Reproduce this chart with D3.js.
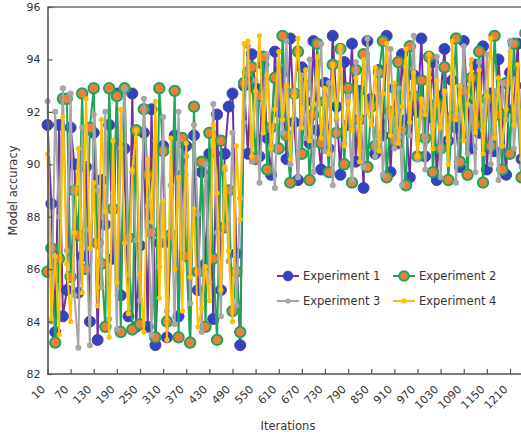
<!DOCTYPE html>
<html>
<head>
<meta charset="utf-8">
<script src="https://cdn.jsdelivr.net/npm/d3@7"></script>
<style>
  body { margin: 0; background: #fff; overflow: hidden; }
  text { font-family: "DejaVu Sans", Verdana, sans-serif; fill: #333; }
</style>
</head>
<body>
<div id="container"></div>
<script>
/* CONSTANTS */
const width = 521,
  height = 438,
  margin = { top: 7, left: 47.5, bottom: 64 };

// iterations 10 .. 1250, one reading every 10
const iterations = d3.range(10, 1260, 10);
const xTicks = [10, 70, 130, 190, 250, 310, 370, 430, 490, 550, 610, 670, 730, 790, 850, 910, 970, 1030, 1090, 1150, 1210];
const yTicks = [82, 84, 86, 88, 90, 92, 94, 96];

/* DATA */
const exp1 = [
  91.5, 88.5, 83.6, 91.5, 84.2, 85.2, 91.4, 90.0, 85.1, 86.5,
  89.9, 84.0, 91.2, 83.3, 89.4, 87.7, 91.5, 86.4, 92.7, 85.0,
  90.6, 84.2, 92.7, 83.8, 86.9, 91.2, 83.8, 92.1, 83.1, 87.0,
  90.7, 83.4, 87.0, 91.1, 84.2, 89.6, 90.7, 83.2, 91.1, 85.2,
  89.7, 86.2, 90.4, 84.1, 91.9, 85.2, 90.4, 92.2, 92.7, 86.6, 83.1,
  93.0, 90.4, 94.2, 92.9, 90.3, 93.8, 91.0, 89.6, 94.3, 92.0,
  93.5, 90.2, 94.8, 91.6, 89.4, 93.7, 92.4, 90.8, 94.7, 91.3,
  89.8, 93.1, 90.6, 94.9, 92.2, 89.6, 93.9, 91.5, 94.6, 90.1,
  92.8, 89.1, 94.7, 92.5, 90.4, 93.6, 91.1, 94.9, 89.7, 92.9,
  90.8, 94.2, 91.7, 89.5, 93.4, 92.0, 94.8, 90.3, 91.8, 93.9,
  89.4, 92.6, 94.4, 90.9, 93.2, 91.4, 89.9, 94.7, 92.3, 90.6,
  93.8, 91.2, 94.5, 89.8, 92.7, 90.5, 94.0, 91.9, 89.6, 93.5,
  92.1, 94.6, 90.2, 93.0
];
const exp2 = [
  85.9, 86.8, 83.2, 86.4, 92.5, 92.5, 85.7, 89.0, 87.3, 92.7,
  86.0, 91.4, 92.9, 87.0, 86.2, 83.8, 92.9, 88.3, 92.6, 83.6,
  92.9, 87.2, 83.7, 91.3, 83.9, 92.1, 89.6, 87.4, 83.4, 92.9,
  90.5, 84.0, 87.3, 92.8, 83.4, 91.0, 86.5, 83.2, 92.2, 85.9,
  90.1, 83.8, 91.2, 86.4, 83.3, 90.9, 87.6, 89.0, 84.4, 85.9, 83.6,
  93.1, 93.5, 93.7, 90.2, 92.6, 94.1, 89.8, 91.4, 93.3, 90.6,
  94.9, 91.1, 89.3, 92.7, 94.3, 90.4, 93.0, 89.4, 91.9, 94.6,
  90.8, 92.4, 89.7, 93.8, 91.2, 94.4, 90.0, 92.9, 89.3, 93.6,
  91.7, 94.2, 89.9, 92.2, 90.7, 93.5, 94.7, 89.5, 92.0, 90.9,
  93.9, 91.3, 89.2, 94.5, 92.6, 90.3, 93.2, 91.0, 94.1, 89.7,
  92.3, 90.6, 93.7, 89.4, 91.8, 94.8, 90.1, 92.8, 89.6, 93.3,
  91.5, 94.3, 89.3, 92.5, 90.7, 94.9, 91.9, 89.8, 93.1, 90.4,
  94.6, 92.0, 89.5, 95.0
];
const exp3 = [
  92.4, 84.0, 92.0, 88.0, 92.9, 86.7, 92.7, 85.0, 83.0, 91.4,
  87.5, 83.1, 91.9, 89.0, 85.3, 92.0, 84.1, 88.9, 83.7, 90.6,
  92.9, 85.8, 89.7, 87.1, 84.8, 92.5, 88.4, 83.5, 90.9, 86.1,
  91.8, 84.4, 89.2, 83.9, 92.0, 86.8, 90.3, 84.7, 91.5, 88.1,
  83.6, 90.0, 85.5, 92.3, 87.4, 84.2, 89.8, 86.3, 91.2, 84.6, 88.7,
  91.6, 94.5, 90.1, 93.2, 89.3, 92.5, 94.2, 90.7, 89.1, 93.8,
  91.2, 94.7, 90.0, 92.8, 89.5, 93.4, 91.0, 94.0, 89.7, 92.3,
  94.6, 90.5, 93.1, 89.2, 91.7, 94.3, 90.8, 92.6, 89.4, 93.9,
  91.4, 89.9, 94.8, 92.1, 90.3, 93.5, 89.6, 91.8, 94.4, 90.6,
  92.9, 89.2, 93.7, 91.1, 94.9, 90.2, 92.4, 89.8, 93.3, 91.5,
  94.1, 89.5, 92.7, 90.9, 93.6, 89.3, 91.9, 94.5, 90.4, 92.2,
  89.7, 93.9, 91.3, 94.2, 90.0, 92.8, 89.4, 93.1, 91.7, 94.7,
  90.6, 92.5, 89.9, 93.4
];
const exp4 = [
  90.4, 84.1, 86.5, 83.5, 91.8, 86.2, 84.0, 87.4, 90.6, 85.1,
  92.5, 86.8, 89.3, 84.6, 91.7, 88.2, 83.4, 90.9, 85.5, 92.1,
  87.0, 84.3, 89.8, 91.3, 85.8, 83.6, 90.2, 87.8, 92.4, 84.9,
  88.6, 83.3, 91.0, 86.0, 89.5, 84.4, 90.8, 85.7, 88.3, 83.8,
  84.5, 86.1, 84.8, 91.5, 88.9, 85.2, 89.9, 86.7, 84.0, 90.7, 87.9,
  94.6, 94.7, 90.3, 92.8, 94.9, 91.2, 93.4, 90.6, 92.1, 94.3,
  91.7, 93.0, 90.2, 92.6, 94.8, 91.4, 93.6, 90.9, 92.3, 94.1,
  91.0, 92.9, 90.4, 93.8, 91.8, 94.5, 90.7, 92.4, 91.3, 93.3,
  90.1, 94.0, 92.0, 91.5, 93.7, 90.5, 92.7, 94.6, 91.1, 93.1,
  90.8, 92.2, 94.4, 91.6, 93.5, 90.3, 92.5, 91.9, 94.2, 90.6,
  93.2, 91.4, 92.8, 90.0, 94.7, 91.7, 93.0, 90.9, 92.3, 94.0,
  91.2, 93.6, 90.4, 92.6, 94.8, 91.0, 93.3, 90.7, 92.1, 94.3,
  91.5, 93.8, 90.2, 94.9
];

const series = [
  { name: "Experiment 1", values: exp1, line: "#7030a0", fill: "#2f45bd", stroke: "#5a38b0", r: 5.5, sw: 1 },
  { name: "Experiment 2", values: exp2, line: "#1fa55a", fill: "#ee7f3b", stroke: "#1fa55a", r: 5.2, sw: 2 },
  { name: "Experiment 3", values: exp3, line: "#a6a6a6", fill: "#a6a6a6", stroke: "#a6a6a6", r: 3, sw: 0 },
  { name: "Experiment 4", values: exp4, line: "#ffc000", fill: "#ffc000", stroke: "#ffc000", r: 2.6, sw: 0 }
];

/* SCALES */
const xScale = d3.scaleLinear()
  .domain([10, 1210])
  .range([margin.left, 510]);

const yScale = d3.scaleLinear()
  .domain([82, 96])
  .range([height - margin.bottom, margin.top]);

const svg = d3.select("#container")
  .append("svg")
  .attr("width", width)
  .attr("height", height);

// top frame line
svg.append("line")
  .attr("x1", margin.left).attr("x2", width)
  .attr("y1", yScale(96)).attr("y2", yScale(96))
  .attr("stroke", "#6b6b6b").attr("stroke-width", 1.5);

/* SERIES */
const lineGen = (vals) => d3.line()
  .x((d, i) => xScale(iterations[i]))
  .y(d => yScale(d))(vals);

series.forEach(s => {
  const g = svg.append("g");
  g.append("path")
    .attr("d", lineGen(s.values))
    .attr("fill", "none")
    .attr("stroke", s.line)
    .attr("stroke-width", 2);
  g.selectAll("circle")
    .data(s.values)
    .join("circle")
    .attr("cx", (d, i) => xScale(iterations[i]))
    .attr("cy", d => yScale(d))
    .attr("r", s.r)
    .attr("fill", s.fill)
    .attr("stroke", s.stroke)
    .attr("stroke-width", s.sw);
});

/* AXES */
const yAxis = d3.axisLeft(yScale)
  .tickValues(yTicks)
  .tickSizeInner(-5)
  .tickSizeOuter(0)
  .tickPadding(7);

const yAxisGroup = svg.append("g")
  .attr("transform", `translate(${margin.left}, 0)`)
  .call(yAxis);

const xAxis = d3.axisBottom(xScale)
  .tickValues(xTicks)
  .tickSizeInner(-5)
  .tickSizeOuter(0)
  .tickFormat(d3.format("d"));

const xAxisGroup = svg.append("g")
  .attr("transform", `translate(0, ${height - margin.bottom})`)
  .call(xAxis);

xAxisGroup.select(".domain").attr("d", `M${margin.left},0H${width}`);

[xAxisGroup, yAxisGroup].forEach(g => {
  g.select(".domain").attr("stroke", "#555").attr("stroke-width", 1.6);
  g.selectAll(".tick line").attr("stroke", "#555").attr("stroke-width", 1.2);
  g.selectAll(".tick text").style("font-size", "11px").attr("fill", "#333")
    .style("font-family", '"DejaVu Sans", Verdana, sans-serif');
});

xAxisGroup.selectAll(".tick text")
  .attr("text-anchor", "end")
  .attr("transform", "translate(-2, 16) rotate(-45)")
  .attr("x", 0).attr("y", 0).attr("dy", 0);

svg.append("text")
  .attr("x", 288).attr("y", 430)
  .attr("text-anchor", "middle")
  .style("font-size", "11.5px")
  .text("Iterations");

svg.append("text")
  .attr("transform", `translate(17, ${(yScale(82) + yScale(96)) / 2}) rotate(-90)`)
  .attr("text-anchor", "middle")
  .style("font-size", "11.5px")
  .text("Model accuracy");

/* LEGEND */
const legend = svg.append("g");
const legendPos = [[277, 276], [393, 276], [277, 301], [393, 301]];
series.forEach((s, i) => {
  const [lx, ly] = legendPos[i];
  const item = legend.append("g").attr("transform", `translate(${lx}, ${ly})`);
  item.append("line")
    .attr("x1", 0).attr("x2", 22)
    .attr("stroke", s.line).attr("stroke-width", 2);
  item.append("circle")
    .attr("cx", 11).attr("r", s.r > 4 ? 4.8 : 2.6)
    .attr("fill", s.fill).attr("stroke", s.stroke).attr("stroke-width", s.sw);
  item.append("text")
    .attr("x", 26).attr("dy", "0.35em")
    .style("font-size", "11.5px")
    .text(s.name);
});
</script>
</body>
</html>
